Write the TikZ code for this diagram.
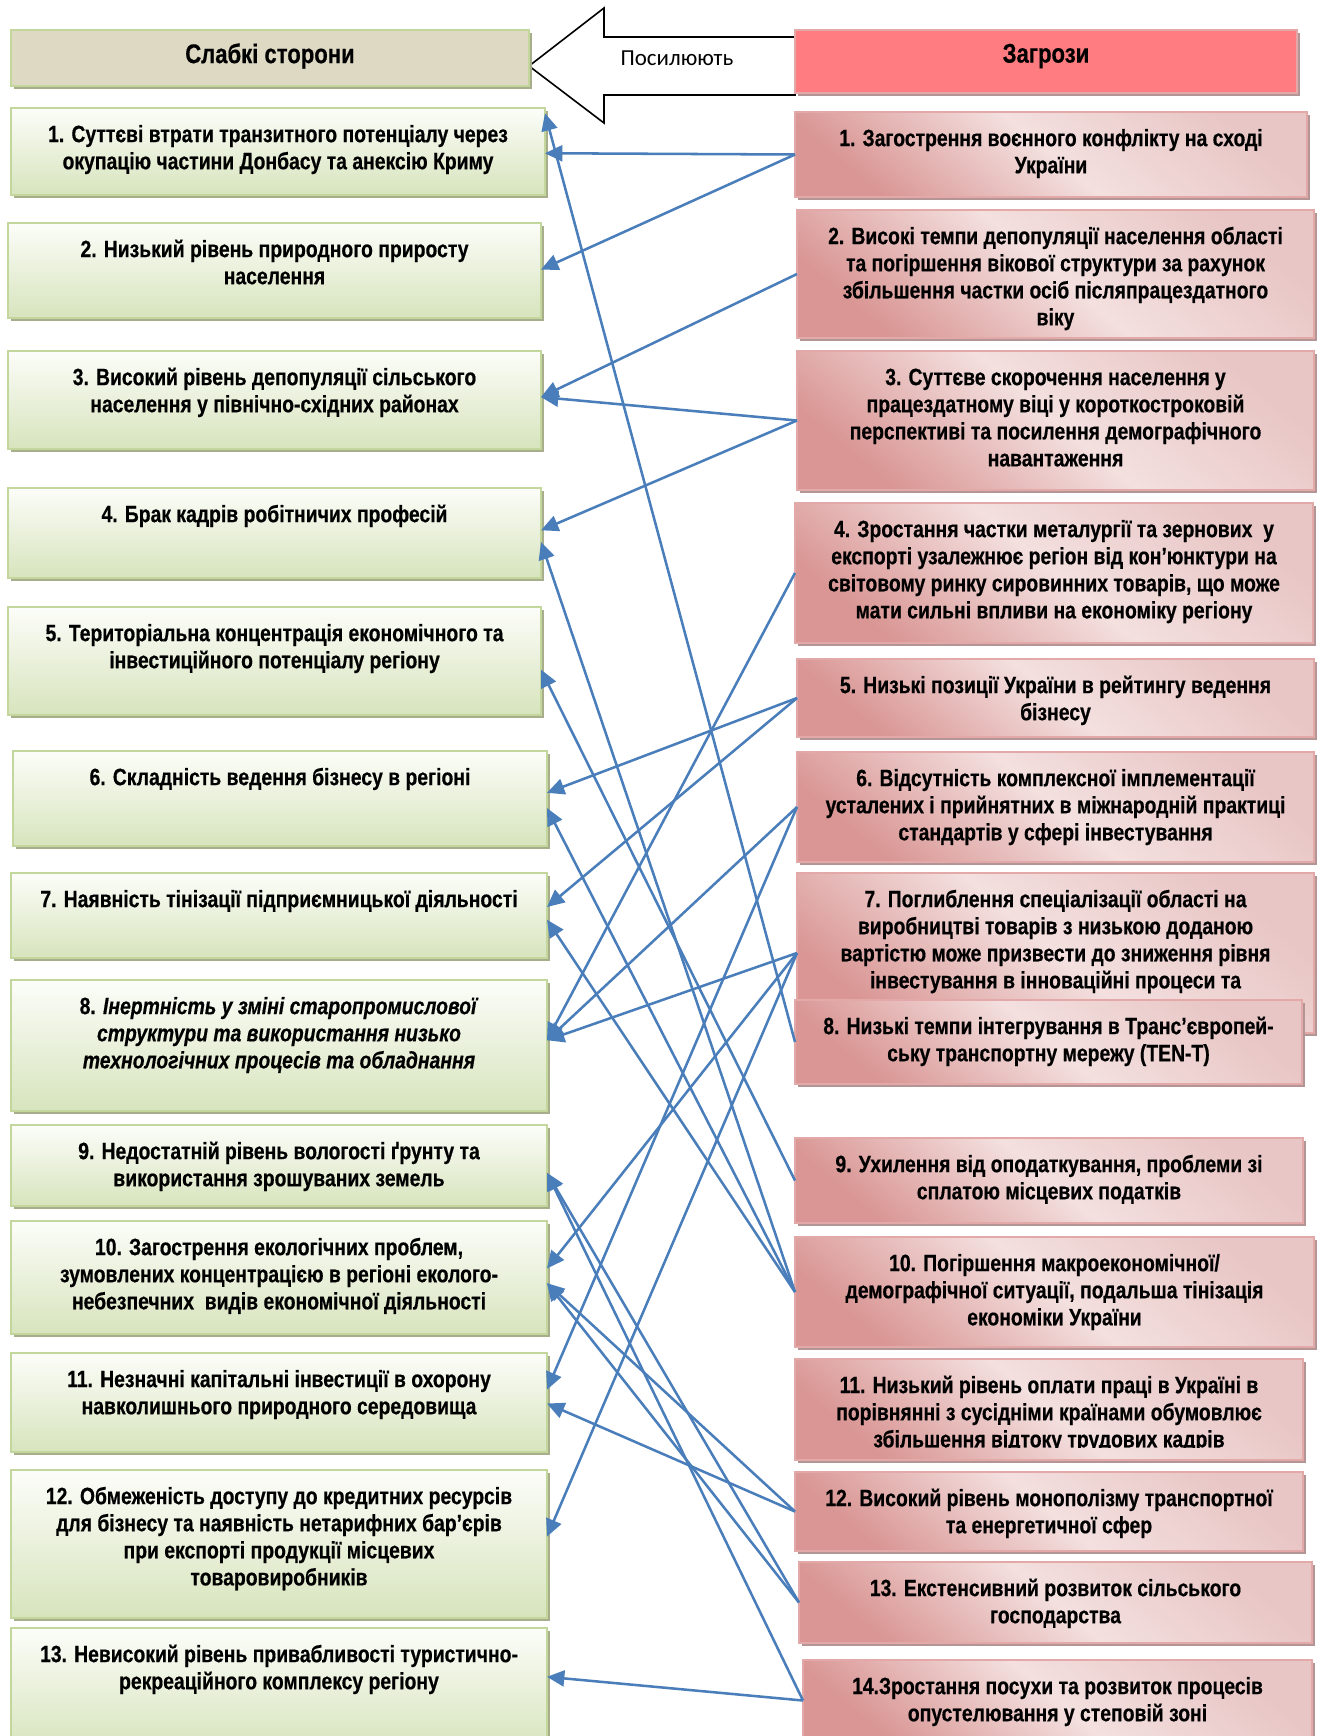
\documentclass[tikz,border=0pt]{standalone}
\usepackage{fontspec}
\setmainfont{Liberation Sans}[FakeStretch=0.82, BoldFeatures={FakeBold=0.5}, BoldItalicFeatures={FakeBold=0.5}]
\newfontfamily\calfont{Carlito}
\usetikzlibrary{arrows.meta,calc,fit,shadows}
\definecolor{lineblue}{HTML}{4A7EBB}
\definecolor{grB}{HTML}{C3D69B}
\definecolor{grT}{HTML}{FCFDF9}
\definecolor{grF}{HTML}{D7E4BD}
\definecolor{grS}{HTML}{A8AD8C}
\definecolor{tanF}{HTML}{DDD9C3}
\definecolor{pkB}{HTML}{E3A9A8}
\definecolor{pkT}{HTML}{E8C6C5}
\definecolor{pkL}{HTML}{F3E0DF}
\definecolor{pkD}{HTML}{D99694}
\definecolor{pkS}{HTML}{B39595}
\definecolor{redF}{HTML}{FF7C80}
\newcommand{\firststrut}{\rule{0pt}{1em}}
\newcommand{\mkbox}[6]{\coordinate (#2a) at (#3,#4); \coordinate (#2b) at (#5,#6);
  \node[#1, fit=(#2a)(#2b), inner sep=0pt] (#2) {};}
\newcommand{\mktxt}[2]{\node[txt, anchor=north] (#1t) at ([yshift=-7.9pt]#1.north) {\firststrut #2};}
\begin{document}
\begin{tikzpicture}[x=0.75pt,y=-0.75pt,
  box/.style={rectangle, inner sep=0pt, outer sep=0pt, line width=1.3pt},
  lbox/.style={box, draw=grB, top color=grT, bottom color=grF,
    general shadow={fill=grS, shadow xshift=2.4pt, shadow yshift=-2.4pt}},
  lhead/.style={box, draw=grB, fill=tanF,
    general shadow={fill=grS, shadow xshift=2.4pt, shadow yshift=-2.4pt}},
  rbox/.style={box, draw=pkB, top color=pkT, bottom color=pkD, middle color=pkL, shading angle=-40,
    general shadow={fill=pkS, shadow xshift=2.4pt, shadow yshift=-2.4pt}},
  rhead/.style={box, draw=pkB, fill=redF,
    general shadow={fill=pkS, shadow xshift=2.4pt, shadow yshift=-2.4pt}},
  txt/.style={align=center, inner sep=0pt, outer sep=0pt,
    font=\bfseries\fontsize{17.7pt}{20.3pt}\selectfont},
  htxt/.style={txt, font=\bfseries\fontsize{20.2pt}{22pt}\selectfont},
  conn/.style={draw=lineblue, line width=1.9pt, -{Triangle[length=13pt,width=12pt]}},
  barrow/.style={draw=black, fill=white, line width=1.2pt, line join=miter}
]
\useasboundingbox (0,0) rectangle (1321,1736);
\fill[white] (0,0) rectangle (1321,1736);
\clip (0,0) rectangle (1321,1736);

% block arrow
\draw[barrow] (529,66) -- (604,8) -- (604,37) -- (795,37) -- (795,95) -- (604,95) -- (604,123) -- cycle;
\node[inner sep=0pt, font=\calfont\fontsize{17.2pt}{19pt}\selectfont] (posil) at (677,58) {Посилюють};

% headers
\mkbox{lhead}{HL}{11}{30}{529}{86}
\mkbox{rhead}{HR}{795}{30}{1297}{93}
\node[htxt] (HLt) at (270,56) {Слабкі сторони};
\node[htxt] (HRt) at (1046,56) {Загрози};

% left boxes
\mkbox{lbox}{L1}{11}{108}{545}{195}
\mkbox{lbox}{L2}{8}{223}{541}{318}
\mkbox{lbox}{L3}{8}{351}{541}{449}
\mkbox{lbox}{L4}{8}{488}{541}{578}
\mkbox{lbox}{L5}{8}{607}{541}{715}
\mkbox{lbox}{L6}{13}{751}{547}{846}
\mkbox{lbox}{L7}{11}{873}{547}{958}
\mkbox{lbox}{L8}{11}{980}{547}{1111}
\mkbox{lbox}{L9}{11}{1125}{547}{1206}
\mkbox{lbox}{L10}{11}{1221}{547}{1334}
\mkbox{lbox}{L11}{11}{1353}{547}{1452}
\mkbox{lbox}{L12}{11}{1470}{547}{1618}
\mkbox{lbox}{L13}{11}{1628}{547}{1750}

\mktxt{L1}{1. Суттєві втрати транзитного потенціалу через\\окупацію частини Донбасу та анексію Криму}
\mktxt{L2}{2. Низький рівень природного приросту\\населення}
\mktxt{L3}{3. Високий рівень депопуляції сільського\\населення у північно-східних районах}
\mktxt{L4}{4. Брак кадрів робітничих професій}
\mktxt{L5}{5. Територіальна концентрація економічного та\\інвестиційного потенціалу регіону}
\mktxt{L6}{6. Складність ведення бізнесу в регіоні}
\mktxt{L7}{7. Наявність тінізації підприємницької діяльності}
\mktxt{L8}{8. \textit{Інертність у зміні старопромислової}\\\textit{структури та використання низько}\\\textit{технологічних процесів та обладнання}}
\mktxt{L9}{9. Недостатній рівень вологості ґрунту та\\використання зрошуваних земель}
\mktxt{L10}{10. Загострення екологічних проблем,\\зумовлених концентрацією в регіоні еколого-\\небезпечних\ \ видів економічної діяльності}
\mktxt{L11}{11. Незначні капітальні інвестиції в охорону\\навколишнього природного середовища}
\mktxt{L12}{12. Обмеженість доступу до кредитних ресурсів\\для бізнесу та наявність нетарифних бар’єрів\\при експорті продукції місцевих\\товаровиробників}
\mktxt{L13}{13. Невисокий рівень привабливості туристично-\\рекреаційного комплексу регіону}

% right boxes
\mkbox{rbox}{R1}{795}{112}{1307}{197}
\mktxt{R1}{1. Загострення воєнного конфлікту на сході\\України}
\mkbox{rbox}{R2}{797}{210}{1314}{338}
\mktxt{R2}{2. Високі темпи депопуляції населення області\\та погіршення вікової структури за рахунок\\збільшення частки осіб післяпрацездатного\\віку}
\mkbox{rbox}{R3}{797}{351}{1314}{490}
\mktxt{R3}{3. Суттєве скорочення населення у\\працездатному віці у короткостроковій\\перспективі та посилення демографічного\\навантаження}
\mkbox{rbox}{R4}{795}{503}{1313}{643}
\mktxt{R4}{4. Зростання частки металургії та зернових\ \ у\\експорті узалежнює регіон від кон’юнктури на\\світовому ринку сировинних товарів, що може\\мати сильні впливи на економіку регіону}
\mkbox{rbox}{R5}{797}{659}{1314}{737}
\mktxt{R5}{5. Низькі позиції України в рейтингу ведення\\бізнесу}
\mkbox{rbox}{R6}{797}{752}{1314}{862}
\mktxt{R6}{6. Відсутність комплексної імплементації\\усталених і прийнятних в міжнародній практиці\\стандартів у сфері інвестування}
\mkbox{rbox}{R7}{797}{873}{1314}{1033}
\mktxt{R7}{7. Поглиблення спеціалізації області на\\виробництві товарів з низькою доданою\\вартістю може призвести до зниження рівня\\інвестування в інноваційні процеси та}
\mkbox{rbox}{R8}{795}{1000}{1302}{1084}
\mktxt{R8}{8. Низькі темпи інтегрування в Транс’європей-\\ську транспортну мережу (TEN-T)}
\mkbox{rbox}{R9}{795}{1138}{1303}{1223}
\mktxt{R9}{9. Ухилення від оподаткування, проблеми зі\\сплатою місцевих податків}
\mkbox{rbox}{R10}{795}{1237}{1314}{1347}
\mktxt{R10}{10. Погіршення макроекономічної/\\демографічної ситуації, подальша тінізація\\економіки України}
\mkbox{rbox}{R11}{795}{1359}{1303}{1460}
\begin{scope}
\clip (795,1359) rectangle (1303,1447);
\mktxt{R11}{11. Низький рівень оплати праці в Україні в\\порівнянні з сусідніми країнами обумовлює\\збільшення відтоку трудових кадрів}
\end{scope}
\mkbox{rbox}{R12}{795}{1472}{1303}{1551}
\mktxt{R12}{12. Високий рівень монополізму транспортної\\та енергетичної сфер}
\mkbox{rbox}{R13}{799}{1562}{1312}{1643}
\mktxt{R13}{13. Екстенсивний розвиток сільського\\господарства}
\mkbox{rbox}{R14}{803}{1660}{1312}{1741}
\mktxt{R14}{14.Зростання посухи та розвиток процесів\\опустелювання у степовій зоні}

% connectors
\draw[conn] (R1.west) -- ($(L1.north east)!0.52!(L1.south east)$);
\draw[conn] (R1.west) -- ($(L2.north east)!0.49!(L2.south east)$);
\draw[conn] (R2.west) -- ($(L3.north east)!0.47!(L3.south east)$);
\draw[conn] (R3.west) -- ($(L3.north east)!0.47!(L3.south east)$);
\draw[conn] (R3.west) -- ($(L4.north east)!0.47!(L4.south east)$);
\draw[conn] (R8.west) -- ($(L1.north east)!0.06!(L1.south east)$);
\draw[conn] (R10.west) -- ($(L4.north east)!0.60!(L4.south east)$);
\draw[conn] (R9.west) -- ($(L5.north east)!0.58!(L5.south east)$);
\draw[conn] (R5.west) -- ($(L6.north east)!0.44!(L6.south east)$);
\draw[conn] (R10.west) -- ($(L6.north east)!0.60!(L6.south east)$);
\draw[conn] (R5.west) -- ($(L7.north east)!0.40!(L7.south east)$);
\draw[conn] (R10.west) -- ($(L7.north east)!0.55!(L7.south east)$);
\draw[conn] (R4.west) -- ($(L8.north east)!0.46!(L8.south east)$);
\draw[conn] (R6.west) -- ($(L8.north east)!0.46!(L8.south east)$);
\draw[conn] (R7.west) -- ($(L8.north east)!0.46!(L8.south east)$);
\draw[conn] (R13.west) -- ($(L9.north east)!0.59!(L9.south east)$);
\draw[conn] (R14.west) -- ($(L9.north east)!0.59!(L9.south east)$);
\draw[conn] (R7.west) -- ($(L10.north east)!0.42!(L10.south east)$);
\draw[conn] (R12.west) -- ($(L10.north east)!0.55!(L10.south east)$);
\draw[conn] (R13.west) -- ($(L10.north east)!0.55!(L10.south east)$);
\draw[conn] (R6.west) -- ($(L11.north east)!0.37!(L11.south east)$);
\draw[conn] (R12.west) -- ($(L11.north east)!0.51!(L11.south east)$);
\draw[conn] (R7.west) -- ($(L12.north east)!0.45!(L12.south east)$);
\draw[conn] (R14.west) -- ($(L13.north east)!0.40!(L13.south east)$);
\end{tikzpicture}
\end{document}
